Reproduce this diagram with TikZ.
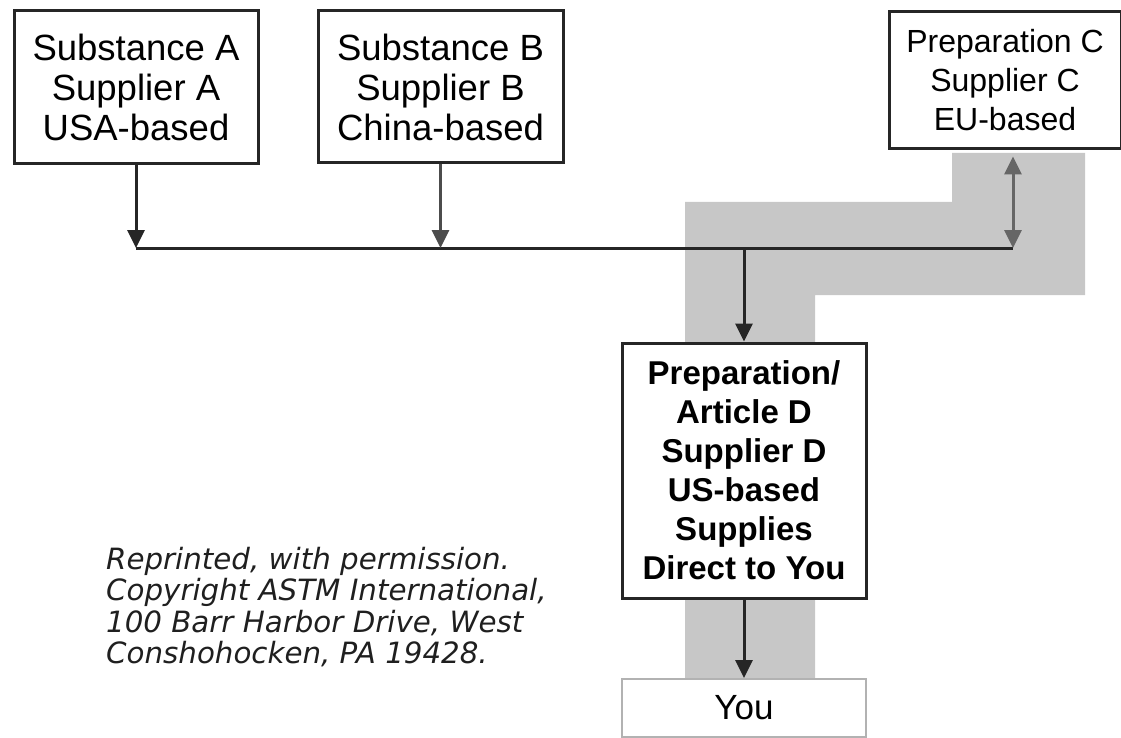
\documentclass[tikz,border=0pt]{standalone}
\usepackage{fontspec}
\setmainfont{Liberation Sans}
\newfontfamily\notefont{DejaVu Sans}
\usetikzlibrary{arrows.meta}

\begin{document}
\begin{tikzpicture}[x=1pt,y=-1pt,
        box/.style={draw=black!85,line width=3pt,fill=white,align=center,inner sep=0pt},
        feed/.style={line width=3pt,draw=black!85,-{Triangle[length=18pt,width=17pt]}},
        both/.style={line width=3pt,draw=black!60,{Triangle[length=18pt,width=17pt]}-{Triangle[length=18pt,width=17pt]}}]
    \useasboundingbox (0,0) rectangle (1121,738);
    % band of the route to you
    \fill[black!22] (685,202) -- (952,202) -- (952,153) -- (1085,153) -- (1085,295)
        -- (815,295) -- (815,679) -- (685,679) -- cycle;
    \node[box,minimum width=244pt,minimum height=153pt,font=\fontsize{36.5}{40}\selectfont] (subA) at (136,87.5)
        {Substance A\\Supplier A\\USA-based};
    \node[box,minimum width=245pt,minimum height=152pt,font=\fontsize{36.5}{40}\selectfont] (subB) at (440.5,87)
        {Substance B\\Supplier B\\China-based};
    \node[box,minimum width=232pt,minimum height=137pt,font=\fontsize{32}{39}\selectfont] (prepC) at (1005,80.5)
        {Preparation C\\Supplier C\\EU-based};
    \node[box,minimum width=244pt,minimum height=255pt,font=\fontsize{33}{39}\selectfont\bfseries] (prepD) at (744,470.5)
        {Preparation/\\Article D\\Supplier D\\US-based\\Supplies\\Direct to You};
    \node[box,draw=black!30,line width=2pt,minimum width=244pt,minimum height=58pt,font=\fontsize{35}{40}\selectfont] (you) at (744,708)
        {You};
    \node[anchor=north west,align=left,inner sep=0pt,text=black!88,font=\notefont\itshape\fontsize{29.3}{31.5}\selectfont] (note) at (106,547)
        {Reprinted, with permission.\\Copyright ASTM International,\\100 Barr Harbor Drive, West\\Conshohocken, PA 19428.};
    \coordinate (bus) at (0,248);
    \coordinate (busC) at (1013,248);
    \draw[line width=3pt,black!85] (subA.south |- bus) -- (busC);
    \draw[feed] (subA.south) -- (subA.south |- bus);
    \draw[feed,draw=black!70] (subB.south) -- (subB.south |- bus);
    \draw[both,shorten <=6pt] (busC |- prepC.south) -- (busC);
    \draw[feed] (prepD.north |- bus) -- (prepD.north);
    \draw[feed] (prepD.south) -- (you.north);
\end{tikzpicture}
\end{document}
